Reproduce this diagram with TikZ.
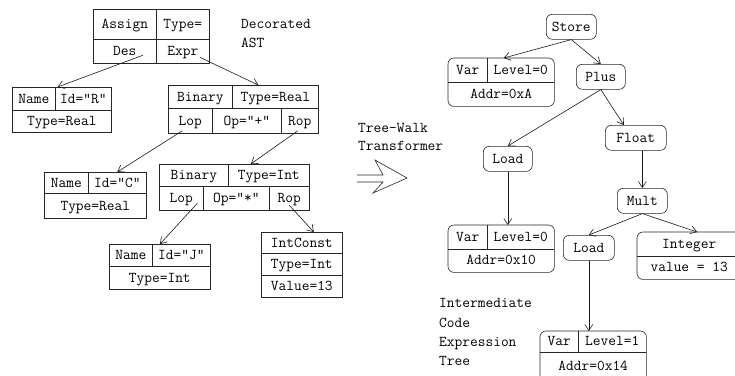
\documentclass[tikz,border=0pt]{standalone}
\usetikzlibrary{arrows.meta}
\begin{document}
\begin{tikzpicture}[x=1pt, y=-1pt,
        cell/.style={draw=black!85, line width=0.6pt, inner sep=0pt, anchor=north west, text height=8.5pt, text depth=0pt, font=\fontsize{15}{19}\selectfont\ttfamily},
        txt/.style={inner sep=0pt, anchor=north west, text height=8.5pt, text depth=0pt, font=\fontsize{15}{19}\selectfont\ttfamily},
        rnode/.style={draw=black!85, line width=0.6pt, rounded corners=6pt, inner sep=0pt, anchor=north west, text height=8.5pt, text depth=0pt, font=\fontsize{15}{19}\selectfont\ttfamily},
        box/.style={draw=black!85, line width=0.6pt},
        note/.style={inner sep=0pt, anchor=west, text height=8.5pt, text depth=0pt, font=\fontsize{15}{19}\selectfont\ttfamily},
        arr/.style={draw=black!90, line width=0.6pt, -{Straight Barb[length=6pt,width=8pt]}}]
        \useasboundingbox (0,0) rectangle (735,375);
        \clip (0,0) rectangle (735,375);

        % decorated AST
        \node[cell, minimum width=63, minimum height=30] (asg) at (93,9) {Assign};
        \node[cell, minimum width=53, minimum height=30] (asgty) at (156,9) {Type=};
        \node[cell, minimum width=63, minimum height=24] (des) at (93,39) {Des};
        \node[cell, minimum width=53, minimum height=24] (expr) at (156,39) {Expr};

        \node[cell, minimum width=43, minimum height=23] (nmR) at (12,87) {Name};
        \node[cell, minimum width=56, minimum height=23] (idR) at (55,87) {Id="R"};
        \node[cell, minimum width=99, minimum height=22] (tyR) at (12,110) {Type=Real};

        \node[cell, minimum width=64, minimum height=23] (binR) at (168,85) {Binary};
        \node[cell, minimum width=86, minimum height=23] (binRty) at (232,85) {Type=Real};
        \node[cell, minimum width=44, minimum height=25] (lopR) at (168,108) {Lop};
        \node[cell, minimum width=69, minimum height=25] (opR) at (212,108) {Op="+"};
        \node[cell, minimum width=37, minimum height=25] (ropR) at (281,108) {Rop};

        \node[cell, minimum width=44, minimum height=21] (nmC) at (44,172) {Name};
        \node[cell, minimum width=58, minimum height=21] (idC) at (88,172) {Id="C"};
        \node[cell, minimum width=102, minimum height=25] (tyC) at (44,193) {Type=Real};

        \node[cell, minimum width=69, minimum height=22] (binI) at (159,164) {Binary};
        \node[cell, minimum width=81, minimum height=22] (binIty) at (228,164) {Type=Int};
        \node[cell, minimum width=44, minimum height=24] (lopI) at (159,186) {Lop};
        \node[cell, minimum width=66, minimum height=24] (opI) at (203,186) {Op="*"};
        \node[cell, minimum width=40, minimum height=24] (ropI) at (269,186) {Rop};

        \node[cell, minimum width=43, minimum height=22] (nmJ) at (109,244) {Name};
        \node[cell, minimum width=58, minimum height=22] (idJ) at (152,244) {Id="J"};
        \node[cell, minimum width=101, minimum height=23] (tyJ) at (109,266) {Type=Int};

        \node[cell, minimum width=81, minimum height=21] (ic) at (261,232) {IntConst};
        \node[cell, minimum width=81, minimum height=22] (icty) at (261,253) {Type=Int};
        \node[cell, minimum width=81, minimum height=22] (icval) at (261,275) {Value=13};

        % AST edges
        \draw[arr] ([xshift=18pt,yshift=-4pt]des.center) -- ([xshift=2pt]nmR.north east);
        \draw[arr] ([xshift=17pt,yshift=-6pt]expr.center) -- ([xshift=-17pt]binRty.north);
        \draw[arr] ([xshift=-8pt,yshift=-10pt]lopR.center) -- (idC.north);
        \draw[arr] ([xshift=-2pt,yshift=-10pt]ropR.center) -- ([xshift=-18pt]binIty.north);
        \draw[arr] ([xshift=16pt,yshift=-5pt]lopI.center) -- ([xshift=8pt]idJ.north west);
        \draw[arr] ([yshift=-7pt]ropI.center) -- ([xshift=12pt]ic.north);

        % labels
        \node[note] (decor) at (241,24) {Decorated};
        \node[note] (ast) at (241,43) {AST};
        \node[note] (walk) at (358,128) {Tree-Walk};
        \node[note] (trans) at (358,146) {Transformer};
        \node[note] (inter) at (439,303) {Intermediate};
        \node[note] (code) at (439,323) {Code};
        \node[note] (expr2) at (439,342) {Expression};
        \node[note] (tree) at (439,361) {Tree};

        % big arrow
        \draw[box, line join=miter] (357,175) -- (383,175) -- (375,160) -- (407,178) -- (373,193) -- (383,182) -- (357,182);

        % expression tree
        \node[rnode, minimum width=50, minimum height=25] (store) at (546,14) {Store};
        \node[rnode, minimum width=49, minimum height=25] (plus) at (576,64) {Plus};
        \node[rnode, minimum width=61, minimum height=25] (flt) at (605,125) {Float};
        \node[rnode, minimum width=49, minimum height=25] (ld1) at (483,146) {Load};
        \node[rnode, minimum width=50, minimum height=25] (mult) at (617,188) {Mult};
        \node[rnode, minimum width=51, minimum height=25] (ld2) at (563,235) {Load};

        \node[txt, minimum width=39, minimum height=24] (vAvar) at (448,58) {Var};
        \node[txt, minimum width=67, minimum height=24] (vAlev) at (487,58) {Level=0};
        \node[txt, minimum width=106, minimum height=24] (vAadr) at (448,82) {Addr=0xA};
        \draw[box, rounded corners=6pt] (vAvar.north west) rectangle (vAadr.south east);
        \draw[box] (vAvar.north east) -- (vAvar.south east);
        \draw[box] (vAvar.south west) -- (vAlev.south east);

        \node[txt, minimum width=39, minimum height=24] (v10var) at (448,225) {Var};
        \node[txt, minimum width=67, minimum height=24] (v10lev) at (487,225) {Level=0};
        \node[txt, minimum width=106, minimum height=23] (v10adr) at (448,249) {Addr=0x10};
        \draw[box, rounded corners=6pt] (v10var.north west) rectangle (v10adr.south east);
        \draw[box] (v10var.north east) -- (v10var.south east);
        \draw[box] (v10var.south west) -- (v10lev.south east);

        \node[txt, minimum width=38, minimum height=21] (v14var) at (540,331) {Var};
        \node[txt, minimum width=68, minimum height=21] (v14lev) at (578,331) {Level=1};
        \node[txt, minimum width=106, minimum height=29] (v14adr) at (540,352) {Addr=0x14};
        \draw[box, rounded corners=6pt] (v14var.north west) rectangle (v14adr.south east);
        \draw[box] (v14var.north east) -- (v14var.south east);
        \draw[box] (v14var.south west) -- (v14lev.south east);

        \node[txt, minimum width=104, minimum height=24] (intnm) at (637,232) {Integer};
        \node[txt, minimum width=104, minimum height=23] (intval) at (637,256) {value = 13};
        \draw[box, rounded corners=6pt] (intnm.north west) rectangle ([xshift=8pt]intval.south east);
        \draw[box] (intnm.south west) -- ([xshift=8pt]intnm.south east);

        % tree edges
        \draw[arr] (store.south) -- ([xshift=-17pt]vAlev.north);
        \draw[arr] (store.south) -- (plus.north);
        \draw[arr] (plus.south) -- (ld1.north);
        \draw[arr] (plus.south) -- ([xshift=-12pt]flt.north);
        \draw[arr] (flt.south -| mult.north) -- (mult.north);
        \draw[arr] (ld1.south) -- (ld1.south |- v10var.north);
        \draw[arr] (mult.south) -- (ld2.north);
        \draw[arr] (mult.south) -- ([xshift=8pt]intnm.north);
        \draw[arr] (ld2.south) -- (ld2.south |- v14var.north);
    \end{tikzpicture}
\end{document}
